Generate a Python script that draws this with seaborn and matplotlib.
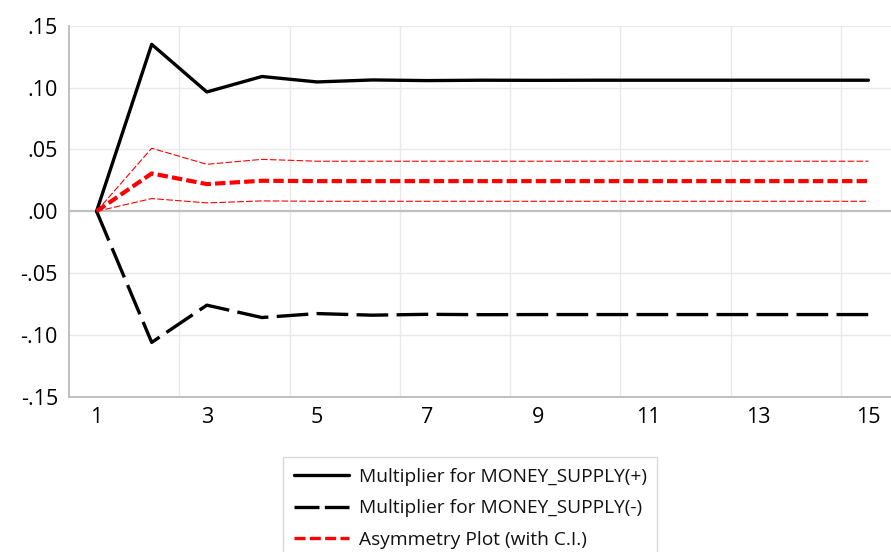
import matplotlib
matplotlib.use("Agg")
import matplotlib.pyplot as plt
from matplotlib.lines import Line2D
import seaborn as sns
import pandas as pd

# Horizon periods and cumulative dynamic multipliers
periods = list(range(1, 16))
mult_pos = [0.0, 0.135, 0.0965, 0.109, 0.1046, 0.1062, 0.1057, 0.106, 0.1059,
            0.106, 0.106, 0.106, 0.106, 0.106, 0.106]
mult_neg = [0.0, -0.106, -0.0759, -0.0859, -0.0827, -0.084, -0.0833, -0.0836,
            -0.0835, -0.0835, -0.0835, -0.0835, -0.0835, -0.0835, -0.0835]
asym = [0.0, 0.0306, 0.022, 0.0247, 0.0244, 0.0244, 0.0244, 0.0244, 0.0244,
        0.0244, 0.0244, 0.0244, 0.0244, 0.0244, 0.0244]
ci_upper = [0.0, 0.051, 0.038, 0.042, 0.0405, 0.0405, 0.0405, 0.0405, 0.0405,
            0.0405, 0.0405, 0.0405, 0.0405, 0.0405, 0.0405]
ci_lower = [0.0, 0.0103, 0.0068, 0.0084, 0.0081, 0.0081, 0.0081, 0.0081, 0.0081,
            0.0081, 0.0081, 0.0081, 0.0081, 0.0081, 0.0081]

xtick_vals = [1, 3, 5, 7, 9, 11, 13, 15]
ytick_vals = [-0.15, -0.10, -0.05, 0.00, 0.05, 0.10, 0.15]
ytick_labels = ["-.15", "-.10", "-.05", ".00", ".05", ".10", ".15"]
legend_labels = ["Multiplier for MONEY_SUPPLY(+)",
                 "Multiplier for MONEY_SUPPLY(-)",
                 "Asymmetry Plot (with C.I.)"]

df = pd.DataFrame({"period": periods, "pos": mult_pos, "neg": mult_neg,
                   "asym": asym, "upper": ci_upper, "lower": ci_lower})

sns.set_theme(style="white")
plt.rcParams["font.family"] = ["Open Sans", "DejaVu Sans"]

W, H = 891, 552
fig = plt.figure(figsize=(W / 100, H / 100), dpi=100)
left, right, top, bottom = 69, 891, 25.8, 396.8
ax = fig.add_axes([left / W, 1 - bottom / H, (right - left) / W, (bottom - top) / H])

# grid: horizontal at y ticks, vertical between odd periods
for v in ytick_vals:
    if v != 0:
        ax.axhline(v, color="#e9e9e9", lw=1.0, zorder=0)
for gx in [2.5, 4.5, 6.5, 8.5, 10.5, 12.5, 14.5]:
    ax.axvline(gx, color="#e9e9e9", lw=1.0, zorder=0)
ax.axhline(0, color="#c0c0c0", lw=1.6, zorder=1)

ci_style = (0, (6, 2))
sns.lineplot(data=df, x="period", y="upper", ax=ax, color="#ff0000", lw=0.8,
             linestyle=ci_style, zorder=3)
sns.lineplot(data=df, x="period", y="lower", ax=ax, color="#ff0000", lw=0.8,
             linestyle=ci_style, zorder=3)
sns.lineplot(data=df, x="period", y="pos", ax=ax, color="black", lw=2.4,
             zorder=4)
sns.lineplot(data=df, x="period", y="neg", ax=ax, color="black", lw=2.4,
             linestyle=(0, (9.5, 2.5)), zorder=4)
sns.lineplot(data=df, x="period", y="asym", ax=ax, color="#ff0000", lw=3.0,
             linestyle=(0, (2.5, 1.0)), zorder=5)

ax.set_xlim(0.5, 15.41)
ax.set_ylim(-0.15, 0.15)
ax.set_xticks(xtick_vals)
ax.set_xticklabels([str(v) for v in xtick_vals])
ax.set_yticks(ytick_vals)
ax.set_yticklabels(ytick_labels)
ax.set_xlabel("")
ax.set_ylabel("")
ax.tick_params(axis="both", length=0, labelsize=15.5, colors="#000000")
ax.tick_params(axis="x", pad=7)
ax.tick_params(axis="y", pad=8)

for s in ["top", "right"]:
    ax.spines[s].set_visible(False)
for s in ["left", "bottom"]:
    ax.spines[s].set_color("#c0c0c0")
    ax.spines[s].set_linewidth(1.4)

handles = [
    Line2D([], [], color="black", lw=2.4),
    Line2D([], [], color="black", lw=2.4, linestyle=(0, (7.5, 1.6))),
    Line2D([], [], color="#ff0000", lw=2.4, linestyle=(0, (3.3, 1.3))),
]
leg = fig.legend(handles, legend_labels, loc="upper left",
                 bbox_to_anchor=(283 / W, 1 - 457 / H), frameon=True,
                 fontsize=13.8, handlelength=2.9, handletextpad=0.5,
                 labelspacing=0.72, borderpad=0.55, fancybox=False,
                 borderaxespad=0)
leg.get_frame().set_edgecolor("#d0d0d0")
leg.get_frame().set_linewidth(1.0)
for t in leg.get_texts():
    t.set_color("#111111")

fig.savefig("out.png", dpi=100)
